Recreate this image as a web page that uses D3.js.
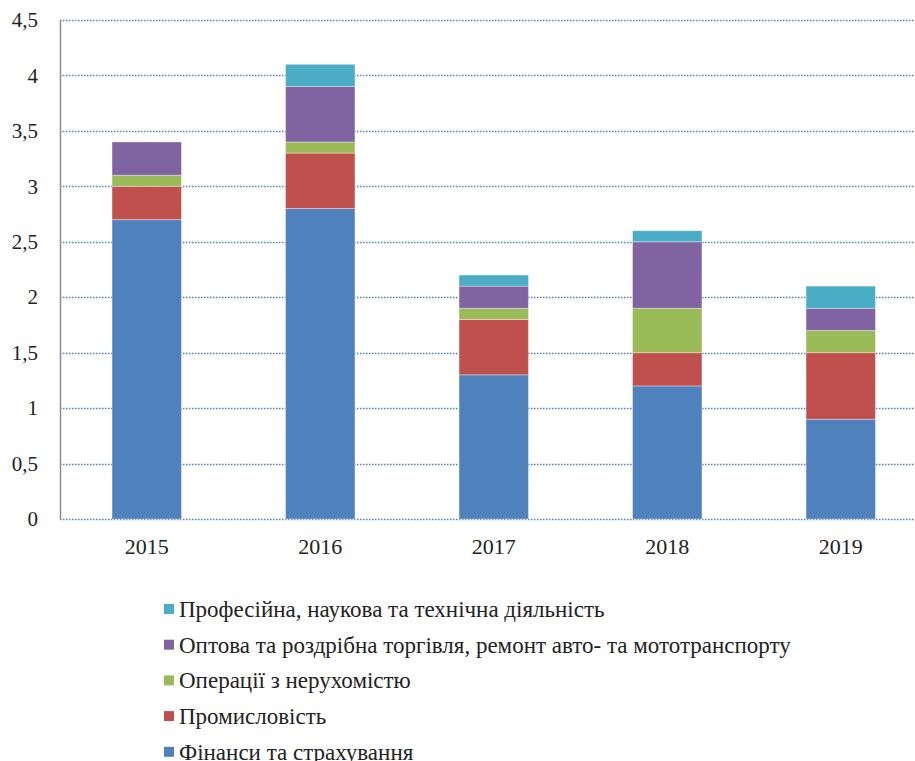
<!DOCTYPE html>
<html>
<head>
<meta charset="utf-8">
<script src="https://cdn.jsdelivr.net/npm/d3@7"></script>
<style>
  body { margin: 0; background: #fff; }
  svg text { font-family: "Liberation Serif", "DejaVu Serif", serif; fill: #222; }
</style>
</head>
<body>
<script>
// Роки та ряди даних
var years = ["2015", "2016", "2017", "2018", "2019"];
var finance = [2.7, 2.8, 1.3, 1.2, 0.9];
var industry = [0.3, 0.5, 0.5, 0.3, 0.6];
var realEstate = [0.1, 0.1, 0.1, 0.4, 0.2];
var trade = [0.3, 0.5, 0.2, 0.6, 0.2];
var professional = [0.0, 0.2, 0.1, 0.1, 0.2];
var seriesNames = [
  "Фінанси та страхування",
  "Промисловість",
  "Операції з нерухомістю",
  "Оптова та роздрібна торгівля, ремонт авто- та мототранспорту",
  "Професійна, наукова та технічна діяльність"
];
var yTicks = [0, 0.5, 1, 1.5, 2, 2.5, 3, 3.5, 4, 4.5];

var colors = ["#4F81BD", "#C0504D", "#9BBB59", "#8064A2", "#4BACC6"];
var allSeries = [finance, industry, realEstate, trade, professional];

var W = 915, H = 761;
var plotLeft = 60, plotTop = 20, plotBottom = 519, plotRight = 927.5;
var serif = "'Liberation Serif', 'DejaVu Serif', serif";

var rows = years.map(function(y, i) {
  var r = { year: y };
  allSeries.forEach(function(s, k) { r["s" + k] = s[i]; });
  return r;
});
var keys = allSeries.map(function(s, k) { return "s" + k; });
var stacked = d3.stack().keys(keys)(rows);

var svg = d3.select("body").append("svg")
  .attr("width", W)
  .attr("height", H);

var x = d3.scaleBand()
  .domain(years)
  .range([plotLeft, plotRight])
  .paddingInner(0.6)
  .paddingOuter(0.3);

var y = d3.scaleLinear()
  .domain([0, 4.5])
  .range([plotBottom, plotTop]);

// Сітка
svg.append("g").selectAll("line")
  .data(yTicks)
  .enter().append("line")
  .attr("x1", plotLeft)
  .attr("x2", W)
  .attr("y1", function(d) { return Math.round(y(d)) + 0.5; })
  .attr("y2", function(d) { return Math.round(y(d)) + 0.5; })
  .attr("stroke", "#4F81BD")
  .attr("stroke-width", 1.5)
  .attr("stroke-dasharray", "1.5,1.5");

// Стовпці
svg.append("g").selectAll("g")
  .data(stacked)
  .enter().append("g")
  .attr("fill", function(d, i) { return colors[i]; })
  .selectAll("rect")
  .data(function(d) { return d.filter(function(p) { return p[1] - p[0] > 0; }); })
  .enter().append("rect")
  .attr("x", function(d) { return x(d.data.year); })
  .attr("width", x.bandwidth())
  .attr("y", function(d) { return y(d[1]); })
  .attr("height", function(d) { return y(d[0]) - y(d[1]); })
  .attr("stroke", "rgba(255,255,255,0.35)")
  .attr("stroke-width", 1);

// Вісь Y
var yAxis = d3.axisLeft(y)
  .tickValues(yTicks)
  .tickSize(0)
  .tickPadding(22)
  .tickFormat(function(d) { return String(d).replace(".", ","); });
var gy = svg.append("g")
  .attr("transform", "translate(" + plotLeft + ",0)")
  .call(yAxis);
gy.select(".domain").attr("stroke", "#8c8c8c").attr("stroke-width", 1.5);
gy.selectAll("text")
  .style("font-family", serif)
  .style("font-size", "21px")
  .attr("fill", "#222");

// Вісь X
var xAxis = d3.axisBottom(x).tickSize(0).tickPadding(19);
var gx = svg.append("g")
  .attr("transform", "translate(0," + plotBottom + ")")
  .call(xAxis);
gx.select(".domain").remove();
gx.selectAll("text")
  .style("font-family", serif)
  .style("font-size", "22px")
  .attr("fill", "#222");

// Легенда (у зворотному порядку)
var legendOrder = [4, 3, 2, 1, 0];
var legend = svg.append("g").selectAll("g")
  .data(legendOrder)
  .enter().append("g")
  .attr("transform", function(d, i) { return "translate(164," + (609 + i * 35.7) + ")"; });
legend.append("rect")
  .attr("x", 0).attr("y", -5)
  .attr("width", 10).attr("height", 10)
  .attr("fill", function(d) { return colors[d]; });
legend.append("text")
  .attr("x", 15)
  .attr("dy", "0.35em")
  .style("font-family", serif)
  .style("font-size", "23px")
  .text(function(d) { return seriesNames[d]; });
</script>
</body>
</html>
